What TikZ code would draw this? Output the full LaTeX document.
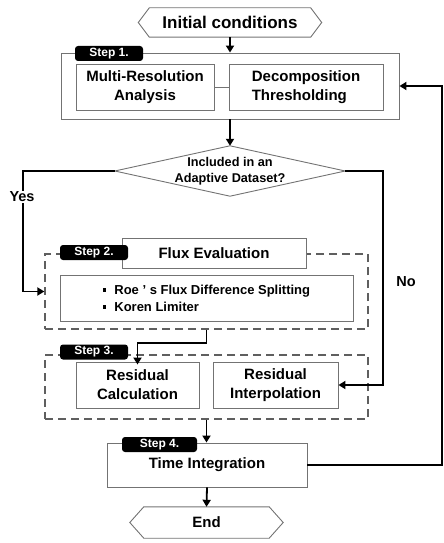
\documentclass[tikz,border=0pt]{standalone}
\usepackage{fontspec}
\setmainfont{Liberation Sans}
\usetikzlibrary{arrows.meta}
\definecolor{bgray}{RGB}{115,115,115}
\definecolor{dgray}{RGB}{95,95,95}
\tikzset{
  boxst/.style={draw=bgray, line width=0.9pt, fill=white, inner sep=0pt, align=center,
    font=\bfseries\fontsize{15}{19}\selectfont},
  plainst/.style={draw=none, inner sep=0pt, align=center, font=\bfseries\fontsize{15}{19}\selectfont},
  dashst/.style={draw=dgray, line width=1.3pt, dash pattern=on 8pt off 5pt, inner sep=0pt},
  labst/.style={fill=black, text=white, inner sep=0pt, rounded corners=3pt,
    font=\bfseries\fontsize{12}{14}\selectfont},
  conn/.style={draw=black, line width=1.8pt, -{Triangle[length=7pt,width=8pt]}},
  thinln/.style={draw=bgray, line width=0.9pt},
  ynst/.style={fill=white, inner sep=1pt, font=\bfseries\fontsize{14.5}{17}\selectfont}
}
\begin{document}
\begin{tikzpicture}[x=1pt,y=-1pt]
\useasboundingbox (0,0) rectangle (444,543);
% initial hexagon
\node[plainst, minimum width=161pt, minimum height=29pt, font=\bfseries\fontsize{17}{20}\selectfont] (init) at (230,22.5) {Initial conditions};
\draw[thinln] ([xshift=-11pt]init.west) -- (init.north west) -- (init.north east) -- ([xshift=11pt]init.east) -- (init.south east) -- (init.south west) -- cycle;
% step 1
\node[boxst, minimum width=338pt, minimum height=66pt] (step1) at (230,86) {};
\node[boxst, minimum width=138pt, minimum height=46pt] (mra) at (145,87) {Multi-Resolution\\Analysis};
\node[boxst, minimum width=154pt, minimum height=46pt, align=left] (dt) at (306,87) {Decomposition\\Thresholding};
\draw[thinln] (mra.east) -- (dt.west);
\node[labst, minimum width=68pt, minimum height=15pt] (lab1) at (109,53.5) {Step 1.};
% decision
\node[plainst, minimum width=230pt, minimum height=50pt, font=\bfseries\fontsize{12.7}{16.5}\selectfont] (dec) at (230,171) {Included in an\\Adaptive Dataset?};
\draw[thinln] (dec.west) -- (dec.north) -- (dec.east) -- (dec.south) -- cycle;
% step 2
\node[dashst, minimum width=323pt, minimum height=75pt] (s2) at (206.5,291.5) {};
\node[boxst, minimum width=184pt, minimum height=30pt] (flux) at (214,253) {Flux Evaluation};
\node[boxst, minimum width=293pt, minimum height=46pt, align=left, font=\bfseries\fontsize{13}{17}\selectfont] (roe) at (206.5,298)
  {\rule[2.5pt]{3.5pt}{3.5pt}\hspace{8pt}Roe ' s Flux Difference Splitting\\\rule[2.5pt]{3.5pt}{3.5pt}\hspace{8pt}Koren Limiter};
\node[labst, minimum width=68pt, minimum height=15pt] (lab2) at (94,252.5) {Step 2.};
% step 3
\node[dashst, minimum width=323pt, minimum height=64pt] (s3) at (206.5,387) {};
\node[boxst, minimum width=123pt, minimum height=46pt] (rc) at (137.5,385) {Residual\\Calculation};
\node[boxst, minimum width=125pt, minimum height=46pt] (ri) at (275.5,385) {Residual\\Interpolation};
\node[labst, minimum width=68pt, minimum height=15pt] (lab3) at (94,352) {Step 3.};
% step 4
\node[boxst, minimum width=200pt, minimum height=44pt] (ti) at (207,465) {Time Integration};
\node[labst, minimum width=75pt, minimum height=15pt] (lab4) at (159.5,444.5) {Step 4.};
% end
\node[plainst, minimum width=125pt, minimum height=31pt] (fin) at (206.5,522.5) {End};
\draw[thinln] ([xshift=-14pt]fin.west) -- (fin.north west) -- (fin.north east) -- ([xshift=14pt]fin.east) -- (fin.south east) -- (fin.south west) -- cycle;
% coordinates for routes
\coordinate (ycol) at (23,230);
\coordinate (ncol) at (383,280);
\coordinate (fb) at (442,300);
% connectors
\draw[conn] (init.south) -- (init.south |- step1.north);
\draw[conn] (step1.south) -- (dec.north);
\draw[conn] (dec.west) -| (ycol) |- (s2.west);
\draw[conn] (dec.east) -| (ncol) |- (ri.east);
\draw[conn] (s2.south) -- ++(0,13) -| ([yshift=-3pt]rc.north);
\draw[conn] (s3.south) -- (s3.south |- ti.north);
\draw[conn] (ti.south) -- (fin.north);
\draw[conn] (ti.east) -| (fb) |- (step1.east);
% labels
\node[ynst] (yes) at (22,197) {Yes};
\node[ynst] (no) at (406,282) {No};
\end{tikzpicture}
\end{document}
